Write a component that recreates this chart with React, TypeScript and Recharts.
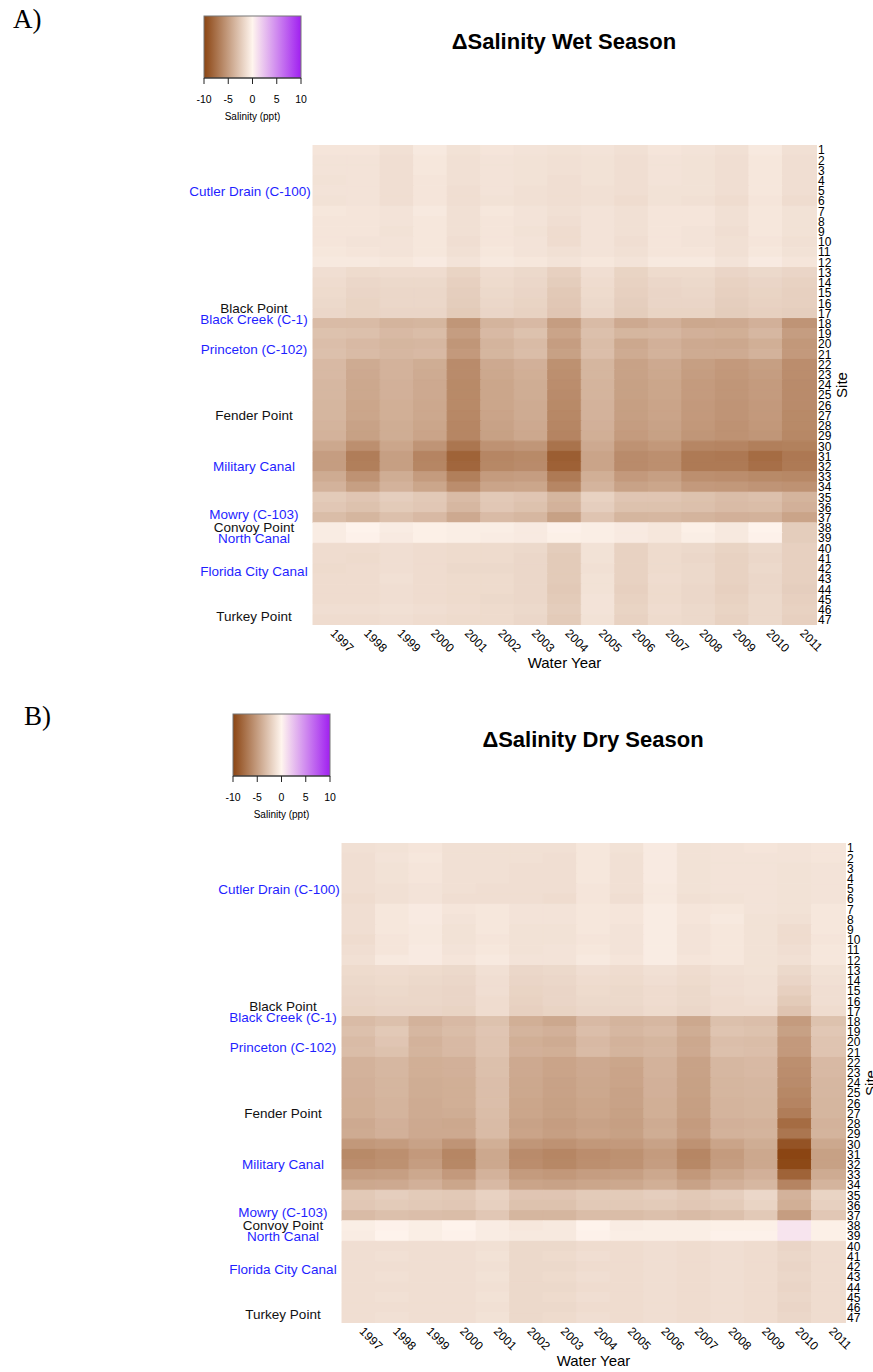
import React from 'react';
import { BarChart, Bar, Cell, XAxis, YAxis, Label } from 'recharts';

const FONT = "'Liberation Sans', Arial, Helvetica, sans-serif";

const years = ['1997', '1998', '1999', '2000', '2001', '2002', '2003', '2004', '2005', '2006', '2007', '2008', '2009', '2010', '2011'];

const siteNumbers = [
  1, 2, 3, 4, 5, 6, 7, 8, 9, 10, 11, 12, 13, 14, 15, 16, 17, 18, 19, 20, 21, 22, 23, 24,
  25, 26, 27, 28, 29, 30, 31, 32, 33, 34, 35, 36, 37, 38, 39, 40, 41, 42, 43, 44, 45, 46, 47,
];

// named locations along the coast, at (fractional) site positions
const siteLabels = [
  { name: 'Cutler Drain (C-100)', site: 5.0 },
  { name: 'Black Point', site: 16.5 },
  { name: 'Black Creek (C-1)', site: 17.6 },
  { name: 'Princeton (C-102)', site: 20.5 },
  { name: 'Fender Point', site: 27.0 },
  { name: 'Military Canal', site: 32.0 },
  { name: 'Mowry (C-103)', site: 36.7 },
  { name: 'Convoy Point', site: 37.9 },
  { name: 'North Canal', site: 39.0 },
  { name: 'Florida City Canal', site: 42.2 },
  { name: 'Turkey Point', site: 46.6 },
];

// canal outlets; everything else is a coastal point
const canalNames = [
  'Cutler Drain (C-100)',
  'Black Creek (C-1)',
  'Princeton (C-102)',
  'Military Canal',
  'Mowry (C-103)',
  'North Canal',
  'Florida City Canal',
];

const legendTicks = [-10, -5, 0, 5, 10];

// change in salinity (ppt), one row per site (1..47), one column per water year
const wetDelta: number[][] = [
  [-0.9, -0.9, -1.2, -0.7, -1.1, -0.9, -1.0, -1.1, -1.0, -1.2, -0.9, -1.0, -1.2, -0.7, -1.2],
  [-1.0, -1.0, -1.3, -0.8, -1.2, -1.0, -1.1, -1.2, -1.1, -1.3, -1.0, -1.1, -1.3, -0.8, -1.3],
  [-1.0, -1.0, -1.3, -0.8, -1.2, -1.0, -1.1, -1.2, -1.1, -1.3, -1.0, -1.1, -1.3, -0.8, -1.3],
  [-1.1, -1.0, -1.3, -0.9, -1.2, -1.0, -1.1, -1.3, -1.1, -1.3, -1.0, -1.1, -1.3, -0.8, -1.3],
  [-1.0, -1.0, -1.3, -0.9, -1.3, -1.0, -1.2, -1.3, -1.2, -1.3, -1.1, -1.1, -1.3, -0.8, -1.3],
  [-1.1, -1.0, -1.3, -0.9, -1.3, -1.1, -1.2, -1.3, -1.2, -1.4, -1.1, -1.2, -1.4, -0.9, -1.4],
  [-0.8, -0.9, -1.0, -0.7, -1.2, -0.8, -1.0, -1.2, -1.0, -1.2, -0.9, -0.9, -1.2, -0.8, -1.1],
  [-0.9, -0.9, -1.0, -0.8, -1.2, -0.9, -1.0, -1.3, -1.0, -1.2, -0.9, -0.9, -1.2, -0.8, -1.1],
  [-0.9, -0.9, -1.1, -0.8, -1.2, -0.9, -1.1, -1.4, -1.0, -1.2, -0.9, -1.0, -1.3, -0.8, -1.1],
  [-0.9, -1.0, -1.0, -0.8, -1.3, -0.9, -1.0, -1.4, -1.0, -1.3, -0.9, -1.0, -1.2, -0.9, -1.2],
  [-0.8, -0.9, -1.0, -0.8, -1.2, -0.8, -1.0, -1.2, -1.0, -1.2, -0.9, -0.9, -1.2, -0.8, -1.1],
  [-0.7, -0.7, -0.8, -0.6, -1.0, -0.7, -0.8, -1.0, -0.8, -1.0, -0.7, -0.7, -1.0, -0.6, -0.9],
  [-1.3, -1.5, -1.4, -1.4, -1.9, -1.4, -1.6, -2.1, -1.3, -1.9, -1.5, -1.5, -1.8, -1.6, -1.8],
  [-1.4, -1.7, -1.6, -1.6, -2.1, -1.5, -1.7, -2.3, -1.4, -2.0, -1.7, -1.6, -2.0, -1.8, -2.0],
  [-1.5, -1.8, -1.7, -1.7, -2.2, -1.6, -1.8, -2.5, -1.5, -2.1, -1.8, -1.7, -2.1, -1.9, -2.1],
  [-1.6, -1.9, -1.7, -1.7, -2.3, -1.7, -1.9, -2.6, -1.6, -2.2, -1.8, -1.8, -2.2, -2.0, -2.1],
  [-1.7, -1.9, -1.8, -1.8, -2.4, -1.8, -2.0, -2.7, -1.7, -2.3, -1.9, -1.9, -2.3, -2.1, -2.2],
  [-3.3, -3.3, -3.7, -3.6, -5.4, -3.7, -3.4, -5.0, -3.3, -4.3, -3.9, -4.4, -4.3, -3.9, -5.5],
  [-2.9, -3.0, -3.4, -3.2, -5.0, -3.4, -2.9, -4.6, -3.0, -3.6, -3.5, -3.9, -4.0, -3.5, -5.0],
  [-3.1, -3.4, -3.6, -3.5, -5.4, -3.7, -3.3, -5.0, -3.2, -4.4, -3.9, -4.3, -4.4, -4.0, -5.3],
  [-3.0, -3.3, -3.5, -3.4, -5.2, -3.6, -3.2, -4.8, -3.1, -4.2, -3.8, -4.2, -4.2, -3.8, -5.2],
  [-3.4, -4.2, -3.8, -4.1, -6.0, -4.3, -3.9, -5.7, -3.6, -4.7, -4.3, -4.9, -5.2, -4.9, -5.9],
  [-3.4, -4.3, -3.8, -4.2, -6.0, -4.4, -4.0, -5.8, -3.6, -4.7, -4.4, -5.0, -5.3, -5.0, -5.9],
  [-3.5, -4.4, -3.9, -4.3, -6.1, -4.5, -4.1, -5.9, -3.7, -4.8, -4.5, -5.1, -5.4, -5.1, -6.0],
  [-3.5, -4.4, -3.9, -4.3, -6.1, -4.5, -4.1, -6.0, -3.7, -4.8, -4.5, -5.1, -5.4, -5.1, -6.0],
  [-3.6, -4.5, -4.0, -4.4, -6.1, -4.5, -4.2, -6.1, -3.8, -4.9, -4.6, -5.2, -5.5, -5.2, -6.0],
  [-3.6, -4.5, -4.0, -4.4, -6.2, -4.6, -4.2, -6.2, -3.8, -4.9, -4.6, -5.2, -5.5, -5.2, -6.1],
  [-3.7, -4.7, -4.1, -4.5, -6.3, -4.7, -4.3, -6.3, -3.9, -5.0, -4.7, -5.3, -5.6, -5.3, -6.1],
  [-3.8, -4.8, -4.1, -4.6, -6.3, -4.8, -4.4, -6.4, -4.0, -5.1, -4.8, -5.4, -5.6, -5.4, -6.2],
  [-4.4, -5.8, -4.5, -5.5, -7.2, -5.6, -5.4, -7.4, -4.3, -5.6, -5.3, -6.3, -6.4, -6.7, -6.6],
  [-5.0, -6.8, -4.9, -6.4, -8.3, -6.3, -6.1, -8.6, -4.6, -6.0, -5.8, -7.0, -7.1, -7.8, -7.1],
  [-5.0, -6.7, -4.9, -6.3, -8.1, -6.2, -6.0, -8.4, -4.6, -6.0, -5.8, -7.0, -7.0, -7.6, -7.0],
  [-4.2, -5.6, -4.1, -5.1, -6.7, -5.1, -5.0, -7.0, -4.0, -5.2, -4.9, -5.8, -5.9, -6.1, -6.2],
  [-3.8, -4.9, -3.8, -4.5, -5.9, -4.6, -4.5, -6.3, -3.7, -4.7, -4.5, -5.2, -5.3, -5.5, -5.6],
  [-2.4, -2.7, -2.2, -2.5, -3.3, -2.5, -2.7, -3.6, -2.0, -2.7, -2.7, -2.9, -3.2, -3.0, -3.7],
  [-2.6, -2.9, -2.4, -2.6, -3.5, -2.6, -2.9, -3.8, -2.2, -2.9, -2.9, -3.0, -3.3, -3.2, -3.9],
  [-3.2, -3.6, -3.0, -3.4, -4.3, -3.3, -3.5, -4.8, -2.8, -3.6, -3.5, -3.7, -3.9, -3.8, -4.6],
  [-0.5, -0.1, -0.5, -0.3, -0.4, -0.4, -0.6, -0.2, -0.4, -0.6, -0.8, -0.3, -0.7, -0.1, -2.3],
  [-0.5, -0.2, -0.6, -0.3, -0.4, -0.5, -0.6, -0.3, -0.4, -0.6, -0.8, -0.4, -0.7, -0.2, -2.3],
  [-1.4, -1.4, -1.3, -1.4, -1.5, -1.5, -1.6, -2.3, -1.1, -2.0, -1.5, -1.6, -1.9, -1.6, -2.1],
  [-1.4, -1.5, -1.3, -1.4, -1.5, -1.5, -1.7, -2.4, -1.1, -2.0, -1.5, -1.7, -2.0, -1.7, -2.1],
  [-1.5, -1.4, -1.3, -1.4, -1.6, -1.6, -1.7, -2.4, -1.2, -2.0, -1.5, -1.6, -2.0, -1.6, -2.1],
  [-1.4, -1.4, -1.2, -1.4, -1.5, -1.5, -1.7, -2.4, -1.1, -2.0, -1.4, -1.6, -2.0, -1.7, -2.1],
  [-1.4, -1.4, -1.3, -1.4, -1.5, -1.5, -1.7, -2.5, -1.1, -2.1, -1.5, -1.7, -2.1, -1.7, -2.2],
  [-1.4, -1.4, -1.3, -1.4, -1.5, -1.6, -1.7, -2.4, -1.0, -2.0, -1.5, -1.7, -2.0, -1.6, -2.1],
  [-1.3, -1.3, -1.2, -1.3, -1.4, -1.5, -1.6, -2.3, -1.0, -1.9, -1.4, -1.6, -1.9, -1.6, -2.0],
  [-1.4, -1.4, -1.3, -1.4, -1.5, -1.5, -1.7, -2.4, -1.1, -2.0, -1.5, -1.6, -2.0, -1.6, -2.1],
];

const dryDelta: number[][] = [
  [-1.2, -1.1, -0.9, -1.2, -1.2, -1.2, -1.2, -0.8, -1.1, -0.6, -1.1, -1.0, -0.9, -1.0, -0.9],
  [-1.3, -1.0, -0.8, -1.2, -1.2, -1.2, -1.3, -0.8, -1.2, -0.6, -1.1, -1.0, -1.0, -1.0, -0.9],
  [-1.3, -1.1, -0.9, -1.2, -1.2, -1.3, -1.3, -0.8, -1.2, -0.6, -1.1, -1.0, -1.0, -1.1, -1.0],
  [-1.3, -1.1, -0.9, -1.2, -1.2, -1.3, -1.3, -0.8, -1.2, -0.6, -1.1, -1.0, -1.0, -1.1, -1.0],
  [-1.3, -1.2, -1.0, -1.2, -1.3, -1.3, -1.3, -0.9, -1.2, -0.7, -1.1, -1.0, -1.0, -1.1, -1.0],
  [-1.4, -1.2, -1.0, -1.3, -1.3, -1.3, -1.4, -0.9, -1.3, -0.7, -1.2, -1.1, -1.0, -1.1, -1.0],
  [-1.3, -0.8, -0.6, -0.9, -0.8, -1.0, -1.0, -0.8, -0.9, -0.5, -0.9, -0.8, -1.0, -1.1, -0.8],
  [-1.3, -0.8, -0.6, -1.0, -0.8, -1.0, -1.0, -0.8, -0.9, -0.5, -0.9, -0.7, -1.1, -1.2, -0.8],
  [-1.3, -0.8, -0.7, -1.1, -0.8, -1.1, -1.1, -0.8, -1.0, -0.5, -1.0, -0.8, -1.1, -1.4, -0.8],
  [-1.4, -0.9, -0.7, -1.1, -0.9, -1.1, -1.1, -0.9, -1.0, -0.5, -1.0, -0.8, -1.1, -1.4, -0.9],
  [-1.3, -0.9, -0.6, -1.0, -0.8, -1.1, -1.0, -0.8, -1.0, -0.5, -1.0, -0.8, -1.1, -1.3, -0.8],
  [-1.2, -0.7, -0.6, -0.9, -0.7, -1.0, -1.0, -0.7, -0.9, -0.5, -0.9, -0.8, -1.1, -1.2, -0.8],
  [-1.5, -1.4, -1.5, -1.6, -1.2, -1.7, -1.6, -1.3, -1.4, -1.2, -1.4, -1.2, -1.1, -1.6, -1.1],
  [-1.6, -1.5, -1.6, -1.7, -1.3, -1.8, -1.7, -1.4, -1.5, -1.3, -1.5, -1.3, -1.2, -1.8, -1.2],
  [-1.7, -1.6, -1.7, -1.8, -1.3, -1.9, -1.8, -1.5, -1.6, -1.4, -1.6, -1.3, -1.2, -2.1, -1.3],
  [-1.8, -1.7, -1.7, -1.8, -1.4, -2.0, -1.8, -1.6, -1.6, -1.4, -1.6, -1.4, -1.3, -2.4, -1.3],
  [-1.9, -1.8, -1.8, -1.9, -1.4, -2.1, -1.9, -1.7, -1.7, -1.5, -1.7, -1.4, -1.4, -2.8, -1.4],
  [-3.3, -3.0, -3.8, -3.4, -2.9, -4.0, -4.4, -3.4, -3.7, -3.5, -4.4, -3.0, -3.1, -5.1, -2.9],
  [-3.0, -2.5, -3.5, -3.2, -2.7, -3.7, -3.9, -3.1, -3.5, -3.3, -4.1, -2.8, -2.9, -4.8, -2.6],
  [-3.3, -2.7, -3.8, -3.4, -2.8, -4.0, -4.2, -3.4, -3.8, -3.6, -4.4, -3.1, -3.2, -5.2, -2.8],
  [-3.2, -2.9, -3.7, -3.4, -2.8, -3.9, -4.0, -3.3, -3.7, -3.5, -4.3, -3.0, -3.1, -5.2, -2.8],
  [-3.8, -3.5, -4.0, -3.9, -3.0, -4.3, -4.6, -4.3, -4.5, -3.8, -4.7, -3.5, -3.4, -5.8, -3.4],
  [-3.8, -3.5, -4.0, -3.9, -3.0, -4.3, -4.6, -4.3, -4.6, -3.8, -4.7, -3.5, -3.4, -5.9, -3.4],
  [-3.9, -3.6, -4.1, -4.0, -3.1, -4.4, -4.7, -4.4, -4.6, -3.9, -4.8, -3.6, -3.5, -6.0, -3.5],
  [-3.9, -3.6, -4.1, -4.0, -3.1, -4.4, -4.7, -4.4, -4.7, -3.9, -4.8, -3.6, -3.5, -6.2, -3.5],
  [-4.0, -3.7, -4.2, -4.0, -3.1, -4.5, -4.8, -4.5, -4.7, -4.0, -4.9, -3.7, -3.6, -6.4, -3.6],
  [-4.0, -3.7, -4.2, -4.1, -3.2, -4.5, -4.8, -4.5, -4.8, -4.0, -4.9, -3.7, -3.6, -6.8, -3.6],
  [-4.3, -3.9, -4.3, -4.4, -3.3, -4.7, -5.0, -4.7, -4.9, -4.2, -5.1, -3.9, -3.8, -7.8, -3.8],
  [-4.2, -3.9, -4.3, -4.3, -3.3, -4.6, -4.9, -4.6, -4.8, -4.1, -5.0, -3.8, -3.7, -7.2, -3.7],
  [-5.3, -5.1, -4.7, -5.5, -4.0, -5.4, -5.6, -5.3, -5.2, -4.7, -5.6, -4.6, -4.1, -9.2, -4.4],
  [-6.1, -5.8, -5.2, -6.3, -4.4, -6.0, -6.3, -5.9, -5.7, -5.1, -6.3, -5.1, -4.4, -10.0, -4.8],
  [-5.9, -5.7, -5.0, -6.2, -4.4, -5.9, -6.2, -5.8, -5.6, -5.0, -6.2, -5.0, -4.4, -9.8, -4.8],
  [-5.0, -4.9, -4.4, -5.2, -3.8, -5.1, -5.3, -5.0, -4.9, -4.4, -5.3, -4.4, -3.9, -8.3, -4.2],
  [-4.4, -4.3, -3.9, -4.5, -3.4, -4.6, -4.7, -4.5, -4.4, -4.0, -4.7, -3.9, -3.5, -6.4, -3.7],
  [-2.5, -2.2, -2.4, -2.5, -2.0, -2.7, -2.7, -2.4, -2.4, -2.2, -2.5, -2.2, -1.7, -3.8, -1.9],
  [-2.6, -2.4, -2.5, -2.6, -2.1, -2.9, -2.9, -2.5, -2.5, -2.4, -2.6, -2.4, -1.9, -4.0, -2.1],
  [-3.3, -3.0, -3.1, -3.2, -2.6, -3.6, -3.6, -3.2, -3.2, -3.0, -3.3, -3.0, -2.5, -5.0, -2.6],
  [-0.4, -0.2, -0.4, -0.1, -0.5, -0.8, -0.7, -0.1, -0.5, -0.4, -0.4, -0.3, -0.3, 0.8, -0.3],
  [-0.5, -0.1, -0.4, -0.2, -0.5, -0.7, -0.7, -0.2, -0.4, -0.4, -0.4, -0.2, -0.2, 0.8, -0.3],
  [-1.3, -1.3, -1.3, -1.3, -1.2, -1.6, -1.6, -1.4, -1.4, -1.3, -1.4, -1.3, -1.4, -1.8, -1.4],
  [-1.3, -1.2, -1.3, -1.3, -1.1, -1.6, -1.5, -1.3, -1.4, -1.3, -1.4, -1.3, -1.4, -1.7, -1.4],
  [-1.3, -1.3, -1.3, -1.3, -1.2, -1.6, -1.6, -1.4, -1.4, -1.3, -1.4, -1.3, -1.4, -1.8, -1.4],
  [-1.3, -1.2, -1.3, -1.3, -1.1, -1.6, -1.5, -1.3, -1.4, -1.3, -1.4, -1.3, -1.4, -1.7, -1.4],
  [-1.3, -1.3, -1.3, -1.3, -1.2, -1.6, -1.6, -1.4, -1.4, -1.3, -1.4, -1.3, -1.4, -1.8, -1.4],
  [-1.3, -1.2, -1.3, -1.3, -1.1, -1.6, -1.5, -1.3, -1.4, -1.3, -1.4, -1.3, -1.4, -1.7, -1.4],
  [-1.3, -1.3, -1.3, -1.3, -1.2, -1.6, -1.6, -1.4, -1.4, -1.3, -1.4, -1.3, -1.4, -1.8, -1.4],
  [-1.3, -1.2, -1.3, -1.3, -1.1, -1.6, -1.5, -1.3, -1.4, -1.3, -1.4, -1.3, -1.4, -1.7, -1.4],
];

// diverging ramp: saddlebrown -> seashell -> purple over -10..10 ppt
const BROWN = [139, 69, 19];
const MID = [255, 245, 238];
const PURPLE = [160, 32, 240];

function salinityColor(v: number) {
  const t = Math.max(-1, Math.min(1, v / 10));
  const end = t < 0 ? BROWN : PURPLE;
  const k = Math.abs(t);
  const c = MID.map((m, i) => Math.round(m + (end[i] - m) * k));
  return `rgb(${c[0]},${c[1]},${c[2]})`;
}

const YearTick = (props: any) => {
  const { x, y, payload } = props;
  return (
    <text
      transform={`translate(${x},${y + 9}) rotate(45)`}
      textAnchor="start"
      fontSize={12}
      fontFamily={FONT}
      fill="#000"
    >
      {payload.value}
    </text>
  );
};

const NameTick = (props: any) => {
  const { x, y, payload } = props;
  const label = siteLabels.find((l) => Math.abs(l.site - 0.5 - payload.value) < 1e-6);
  if (!label) return null;
  const isCanal = canalNames.includes(label.name);
  // the long Cutler Drain label sits a little further left
  const cx = label.name.length > 18 ? x - 63 : x - 59;
  return (
    <text x={cx} y={y} dy="0.355em" textAnchor="middle" fontSize={13.5} fontFamily={FONT} fill={isCanal ? '#1f1fff' : '#111'}>
      {label.name}
    </text>
  );
};

function ColorKey() {
  const x0 = 204;
  const x1 = 301;
  const scale = (v: number) => x0 + ((v + 10) / 20) * (x1 - x0);
  return (
    <g fontFamily={FONT}>
      <defs>
        <linearGradient id="salinity-ramp" x1="0" y1="0" x2="1" y2="0">
          <stop offset="0%" stopColor={salinityColor(-10)} />
          <stop offset="50%" stopColor={salinityColor(0)} />
          <stop offset="100%" stopColor={salinityColor(10)} />
        </linearGradient>
      </defs>
      <rect x={x0} y={16} width={x1 - x0} height={62} fill="url(#salinity-ramp)" stroke="#777" strokeWidth={1} />
      <line x1={x0} x2={x1} y1={78} y2={78} stroke="#222" />
      {legendTicks.map((v) => (
        <g key={v}>
          <line x1={scale(v)} x2={scale(v)} y1={78} y2={84} stroke="#222" />
          <text x={scale(v)} y={103} textAnchor="middle" fontSize={10.5} fill="#000">
            {v}
          </text>
        </g>
      ))}
      <text x={(x0 + x1) / 2} y={120} textAnchor="middle" fontSize={10} fill="#000">
        Salinity (ppt)
      </text>
    </g>
  );
}

function HeatPanel({ title, values, left, top }: { title: string; values: number[][]; left: number; top: number }) {
  const rows = years.map((year) => {
    const row: Record<string, string | number> = { year };
    siteNumbers.forEach((s) => {
      row[`s${s}`] = 1;
    });
    return row;
  });

  return (
    <div style={{ position: 'absolute', left, top, width: 873, height: 690 }}>
      <div style={{ position: 'absolute', left: 0, top: 0 }}>
        <BarChart
          width={873}
          height={690}
          data={rows}
          margin={{ top: 145, right: 0, bottom: 20, left: 0 }}
          barCategoryGap={0}
          barGap={0}
        >
          <XAxis
            dataKey="year"
            height={45}
            tickLine={false}
            axisLine={false}
            tickSize={0}
            tickMargin={0}
            interval={0}
            tick={<YearTick />}
          >
            <Label
              content={(p: any) => {
                const vb = p.viewBox;
                return (
                  <text x={vb.x + vb.width / 2} y={vb.y + 43} textAnchor="middle" fontSize={15} fontFamily={FONT} fill="#000">
                    Water Year
                  </text>
                );
              }}
            />
          </XAxis>
          <YAxis
            yAxisId="names"
            orientation="left"
            width={313}
            type="number"
            domain={[0, 47]}
            allowDataOverflow
            reversed
            ticks={siteLabels.map((l) => l.site - 0.5)}
            interval={0}
            tickLine={false}
            axisLine={false}
            tickSize={0}
            tickMargin={0}
            tick={<NameTick />}
          />
          <YAxis
            yAxisId="sites"
            orientation="right"
            width={57}
            type="number"
            domain={[0, 47]}
            allowDataOverflow
            reversed
            ticks={siteNumbers.map((s) => s - 0.5)}
            interval={0}
            tickLine={false}
            axisLine={false}
            tickSize={0}
            tickMargin={2}
            tickFormatter={(v: number) => String(Math.round(v + 0.5))}
            tick={{ fill: '#000', fontSize: 12, fontFamily: FONT }}
          >
            <Label
              content={(p: any) => {
                const vb = p.viewBox;
                const cx = vb.x + 25;
                const cy = vb.y + vb.height / 2;
                return (
                  <text
                    x={cx}
                    y={cy}
                    transform={`rotate(-90 ${cx} ${cy})`}
                    textAnchor="middle"
                    dominantBaseline="central"
                    fontSize={15}
                    fontFamily={FONT}
                    fill="#000"
                  >
                    Site
                  </text>
                );
              }}
            />
          </YAxis>
          {siteNumbers.map((s, i) => (
            <Bar key={s} yAxisId="sites" dataKey={`s${s}`} stackId="site" isAnimationActive={false}>
              {years.map((y, j) => {
                const fill = salinityColor(values[i][j]);
                return <Cell key={y} fill={fill} stroke={fill} strokeWidth={1} />;
              })}
            </Bar>
          ))}
        </BarChart>
      </div>
      <svg style={{ position: 'absolute', left: 0, top: 0, pointerEvents: 'none' }} width={873} height={130}>
        <text x={564} y={49} textAnchor="middle" fontSize={22} fontWeight="bold" fontFamily={FONT} fill="#000">
          {title}
        </text>
        <ColorKey />
      </svg>
    </div>
  );
}

export default function App() {
  return (
    <div
      style={{
        position: 'absolute',
        left: 0,
        top: 0,
        width: 873,
        height: 1372,
        overflow: 'hidden',
        background: '#fff',
      }}
    >
      <HeatPanel title="ΔSalinity Wet Season" values={wetDelta} left={0} top={0} />
      <HeatPanel title="ΔSalinity Dry Season" values={dryDelta} left={29} top={698} />
      <div style={{ position: 'absolute', left: 13, top: 4, fontFamily: "'Liberation Serif', 'DejaVu Serif', serif", fontSize: 27 }}>
        A)
      </div>
      <div style={{ position: 'absolute', left: 24, top: 701, fontFamily: "'Liberation Serif', 'DejaVu Serif', serif", fontSize: 27 }}>
        B)
      </div>
    </div>
  );
}
